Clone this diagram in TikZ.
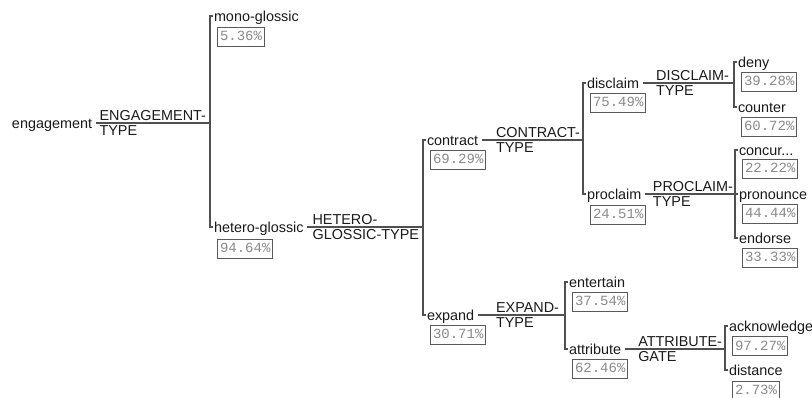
\documentclass[tikz,border=0pt]{standalone}
\usepackage{fontspec}
\setmainfont{Liberation Sans}
\newfontfamily\pctfont{Liberation Mono}
\usetikzlibrary{calc}
\definecolor{linegray}{HTML}{505050}
\definecolor{boxgray}{HTML}{5A5A5A}
\definecolor{pctgray}{HTML}{8A8A8A}
\definecolor{inkblack}{HTML}{1A1A1A}
\begin{document}
\begin{tikzpicture}[x=1pt,y=-1pt,
  lbl/.style={inner xsep=1.5pt, inner ysep=0pt, outer sep=0pt,
    text height=12pt, text depth=1.5pt, text=inkblack,
    font=\fontsize{14.4}{16}\selectfont, anchor=west},
  sys/.style={inner sep=0pt, outer sep=0pt, align=left, text=inkblack,
    font=\fontsize{14.4}{15.5}\selectfont, anchor=east},
  pct/.style={draw=boxgray, line width=1pt, text=pctgray,
    font=\pctfont\fontsize{14}{15}\selectfont,
    inner xsep=2.5pt, inner ysep=0pt, text height=11pt, text depth=3pt,
    minimum height=19pt, anchor=north west},
  link/.style={draw=linegray, line width=1.3pt},
  feed/.style={link, shorten <=2pt},
]
\fill[white] (0,0) rectangle (812,398);
\useasboundingbox (0,0) rectangle (812,398);

% bracket points of the systems
\coordinate (b1) at (210,123);
\coordinate (b2) at (423,227);
\coordinate (b3) at (583,140);
\coordinate (b4) at (734,83);
\coordinate (b5) at (735,194);
\coordinate (b6) at (565,315);
\coordinate (b7) at (725,349);

% features
\node[lbl] (eng)  at (10.5,123) {engagement};
\node[lbl] (mono) at (212.5,16)  {mono-glossic};
\node[lbl] (het)  at (212.5,227) {hetero-glossic};
\node[lbl] (con)  at (425.5,140) {contract};
\node[lbl] (exp)  at (425.5,315) {expand};
\node[lbl] (dis)  at (585.5,83)  {disclaim};
\node[lbl] (pro)  at (585.5,194) {proclaim};
\node[lbl] (deny) at (736.5,62)  {deny};
\node[lbl] (cnt)  at (736.5,107) {counter};
\node[lbl] (ccr)  at (737.5,150) {concur...};
\node[lbl] (prn)  at (737.5,194) {pronounce};
\node[lbl] (end)  at (737.5,238) {endorse};
\node[lbl] (ent)  at (567.5,282) {entertain};
\node[lbl] (att)  at (567.5,349) {attribute};
\node[lbl] (ack)  at (727.5,326) {acknowledge};
\node[lbl] (dst)  at (727.5,370) {distance};

% system names
\node[sys] (s1) at ([xshift=-4pt]b1) {ENGAGEMENT-\\TYPE};
\node[sys] (s2) at ([xshift=-4pt]b2) {HETERO-\\GLOSSIC-TYPE};
\node[sys] (s3) at ([xshift=-3pt]b3) {CONTRACT-\\TYPE};
\node[sys] (s4) at ([xshift=-5pt]b4) {DISCLAIM-\\TYPE};
\node[sys] (s5) at ([xshift=-2pt]b5) {PROCLAIM-\\TYPE};
\node[sys] (s6) at ([xshift=-6pt]b6) {EXPAND-\\TYPE};
\node[sys] (s7) at ([xshift=-3pt]b7) {ATTRIBUTE-\\GATE};

% percentages
\node[pct] (monop) at ([shift={(4.5,11)}]mono.west) {5.36\%};
\node[pct] (hetp)  at ([shift={(4.5,12)}]het.west)  {94.64\%};
\node[pct] (conp)  at ([shift={(4.5,10)}]con.west)  {69.29\%};
\node[pct] (expp)  at ([shift={(4.5,10)}]exp.west)  {30.71\%};
\node[pct] (disp)  at ([shift={(4.5,10)}]dis.west)  {75.49\%};
\node[pct] (prop)  at ([shift={(4.5,11)}]pro.west)  {24.51\%};
\node[pct] (denyp) at ([shift={(4.5,10)}]deny.west) {39.28\%};
\node[pct] (cntp)  at ([shift={(4.5,10)}]cnt.west)  {60.72\%};
\node[pct] (ccrp)  at ([shift={(4.5,9)}]ccr.west)   {22.22\%};
\node[pct] (prnp)  at ([shift={(4.5,10)}]prn.west)  {44.44\%};
\node[pct] (endp)  at ([shift={(4.5,10)}]end.west)  {33.33\%};
\node[pct] (entp)  at ([shift={(4.5,10)}]ent.west)  {37.54\%};
\node[pct] (attp)  at ([shift={(4.5,10)}]att.west)  {62.46\%};
\node[pct] (ackp)  at ([shift={(4.5,10)}]ack.west)  {97.27\%};
\node[pct] (dstp)  at ([shift={(4.5,11)}]dst.west)  {2.73\%};

% entry lines into the systems
\draw[feed] (eng) -- (b1);
\draw[feed] (het) -- (b2);
\draw[feed] (con) -- (b3);
\draw[feed] (dis) -- (b4);
\draw[feed] (pro) -- (b5);
\draw[feed] (exp) -- (b6);
\draw[feed] (att) -- (b7);

% brackets
\draw[link] (mono.west) -| (b1) |- (het.west);
\draw[link] (con.west)  -| (b2) |- (exp.west);
\draw[link] (dis.west)  -| (b3) |- (pro.west);
\draw[link] (deny.west) -| (b4) |- (cnt.west);
\draw[link] (ccr.west)  -| (b5) |- (end.west);
\draw[link] (b5) -- (prn.west);
\draw[link] (ent.west)  -| (b6) |- (att.west);
\draw[link] (ack.west)  -| (b7) |- (dst.west);
\end{tikzpicture}
\end{document}
